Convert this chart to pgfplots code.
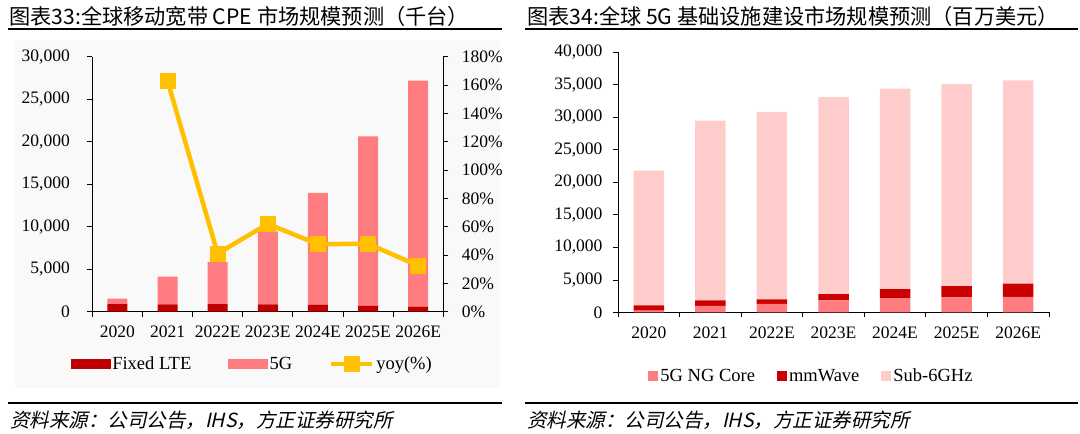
\documentclass[border=0pt]{standalone}
\usepackage{pgfplots}
\usepackage{pgfplotstable}
\pgfplotsset{compat=1.18}
\usepackage{fontspec}
\setmainfont{Liberation Serif}
\newfontfamily\cjk{Noto Sans CJK SC}
\newfontfamily\cjkit{Noto Sans CJK SC}[FakeSlant=0.22]
\definecolor{ltered}{HTML}{C00000}
\definecolor{fivegc}{HTML}{FF7C80}
\definecolor{yoyc}{HTML}{FFC000}
\definecolor{mmw}{HTML}{CC0000}
\definecolor{subsix}{HTML}{FFCCCC}

\pgfplotstableread{
x lte fiveg
0 900 650
1 870 3260
2 900 4930
3 870 8580
4 830 13140
5 680 19960
6 600 26580
}\leftdata

\pgfplotstableread{
x yoy
1 163
2 41
3 62
4 47.6
5 48
6 32.5
}\yoydata

\pgfplotstableread{
x core mmwave sub
0 300 800 20670
1 1030 820 27620
2 1340 660 28800
3 1850 970 30240
4 2210 1380 30800
5 2310 1750 31000
6 2410 2010 31210
}\rightdata

\pgfplotsset{
  mybase/.style={
    scale only axis,
    xmin=-0.5, xmax=6.5,
    tick align=outside,
    axis line style={line width=0.8pt, black},
    every tick/.style={black, line width=0.8pt},
    major tick length=5pt, minor tick length=5pt,
    tick label style={font=\fontsize{17.5}{19}\selectfont},
    /pgf/number format/assume math mode=true,
    /pgf/number format/1000 sep={,},
    scaled y ticks=false,
  },
  myx/.style={
    xtick={0,...,6},
    xticklabels={2020,2021,2022E,2023E,2024E,2025E,2026E},
    minor xtick={-0.5,0.5,...,6.5},
    major x tick style={draw=none},
    xticklabel style={yshift=-6pt},
  }
}

\begin{document}
\begin{tikzpicture}[x=1pt,y=1pt]
\path[use as bounding box] (0,0) rectangle (1080,434);
\fill[black!2.5] (15,46) rectangle (500,394);

% titles
\node[anchor=west, font=\cjk\fontsize{21.2}{23}\selectfont, inner sep=0] at (9,418) {图表33:全球移动宽带 CPE 市场规模预测（千台）};
\node[anchor=west, font=\cjk\fontsize{21.2}{23}\selectfont, inner sep=0] at (527,418) {图表34:全球 5G 基础设施建设市场规模预测（百万美元）};
\draw[line width=2pt] (8,404.5) -- (502,404.5);
\draw[line width=2pt] (525,404.5) -- (1078,404.5);

% footnotes
\draw[line width=1.6pt] (8,31) -- (502,31);
\draw[line width=1.6pt] (525,31) -- (1078,31);
\node[anchor=west, font=\cjkit\fontsize{19.5}{21}\selectfont, inner sep=0] at (10,14) {资料来源：公司公告，IHS，方正证券研究所};
\node[anchor=west, font=\cjkit\fontsize{19.5}{21}\selectfont, inner sep=0] at (527,14) {资料来源：公司公告，IHS，方正证券研究所};

% ---------- left chart ----------
\begin{axis}[mybase, myx,
  at={(92.3pt,122.3pt)}, anchor=south west,
  width=351pt, height=255pt,
  axis x line*=bottom, axis y line*=left,
  ybar stacked, bar width=20pt,
  ymin=0, ymax=30000, ytick={0,5000,...,30000},
  yticklabel style={xshift=-14pt},
]
\addplot[fill=ltered, draw=none] table[x=x, y=lte]{\leftdata};
\addplot[fill=fivegc, draw=none] table[x=x, y=fiveg]{\leftdata};
\end{axis}

\begin{axis}[mybase,
  at={(92.3pt,122.3pt)}, anchor=south west,
  width=351pt, height=255pt,
  axis y line*=right, axis x line=none,
  ymin=0, ymax=180, ytick={0,20,...,180},
  yticklabel={\pgfmathprintnumber{\tick}\%},
  yticklabel style={xshift=10pt},
  clip=false,
  legend columns=3,
  legend style={draw=none, fill=none, font=\fontsize{18.5}{20}\selectfont,
    at={(0.456,-0.205)}, anchor=center,
    /tikz/every even column/.append style={column sep=35pt}},
]
\addlegendimage{legend image code/.code={\fill[ltered] (0pt,-4.5pt) rectangle (39pt,4.5pt);}}
\addlegendentry{Fixed LTE}
\addlegendimage{legend image code/.code={\fill[fivegc] (0pt,-4.5pt) rectangle (39pt,4.5pt);}}
\addlegendentry{5G}
\addplot[yoyc, line width=4.5pt, mark=square*, mark size=7.5pt, mark options={solid, line width=0pt},
  legend image code/.code={\draw[yoyc, line width=4pt] (0pt,0pt) -- (41pt,0pt); \fill[yoyc] (15pt,-5.5pt) rectangle (26pt,5.5pt);}]
  table[x=x, y=yoy]{\yoydata};
\addlegendentry{yoy(\%)}
\end{axis}

% ---------- right chart ----------
\begin{axis}[mybase, myx,
  at={(618pt,121.5pt)}, anchor=south west,
  width=431pt, height=260.5pt,
  axis x line*=bottom, axis y line*=left,
  ybar stacked, bar width=30.5pt,
  ymin=0, ymax=40000, ytick={0,5000,...,40000},
  yticklabel style={xshift=-7pt},
  legend columns=3,
  legend style={draw=none, fill=none, font=\fontsize{18.5}{20}\selectfont,
    at={(0.449,-0.244)}, anchor=center,
    /tikz/every even column/.append style={column sep=20pt}},
]
\addplot[fill=fivegc, draw=none, legend image code/.code={\fill[fivegc] (0pt,-5pt) rectangle (10pt,5pt);}] table[x=x, y=core]{\rightdata};
\addlegendentry{5G NG Core}
\addplot[fill=mmw, draw=none, legend image code/.code={\fill[mmw] (0pt,-5pt) rectangle (10pt,5pt);}] table[x=x, y=mmwave]{\rightdata};
\addlegendentry{mmWave}
\addplot[fill=subsix, draw=none, legend image code/.code={\fill[subsix] (0pt,-5pt) rectangle (10pt,5pt);}] table[x=x, y=sub]{\rightdata};
\addlegendentry{Sub-6GHz}
\end{axis}
\end{tikzpicture}
\end{document}
